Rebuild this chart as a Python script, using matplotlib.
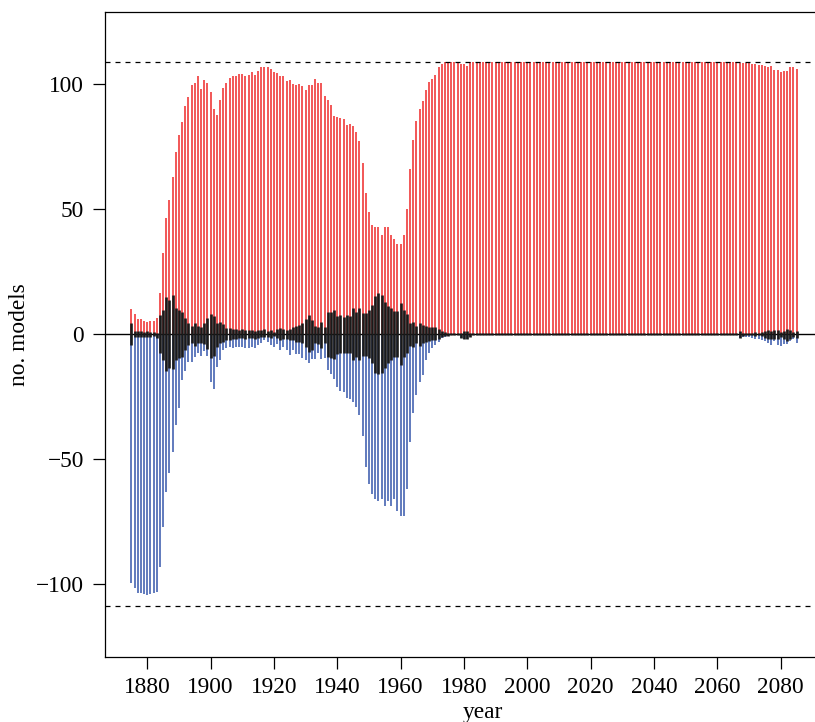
import matplotlib
matplotlib.use('Agg')
import matplotlib.pyplot as plt
import numpy as np

plt.rcParams['font.family'] = ['Liberation Serif', 'DejaVu Serif']

color_pos, color_neg, color_mid = '#f03a3a', '#4563b2', '#1a1a1a'
n_total = 109

# one bar per year, 1875 .. 2085
years = np.arange(1875, 2086)

# number of models with positive sign (red)
pos_models = [
    10.0, 8.0, 6.0, 6.0, 5.3,                                        # 1875-79
    4.8, 5.3, 5.3, 6.5, 16.3, 32.5, 46.5, 53.5, 62.7, 73.0,          # 1880s
    79.6, 84.8, 91.2, 94.7, 99.6, 100.5, 103.2, 98.0, 101.7, 100.6,  # 1890s
    97.0, 90.0, 87.6, 93.5, 98.5, 100.6, 102.5, 103.3, 103.2, 104.0,  # 1900s
    104.0, 103.3, 103.5, 104.8, 103.6, 105.2, 106.7, 106.7, 106.7, 106.0,  # 1910s
    104.7, 104.3, 103.2, 103.2, 101.3, 101.6, 100.1, 99.7, 99.9, 99.1,  # 1920s
    97.6, 99.6, 99.6, 102.0, 100.3, 100.3, 95.2, 93.6, 91.6, 87.2,   # 1930s
    86.8, 86.5, 86.0, 83.6, 84.1, 83.1, 80.7, 77.2, 68.5, 56.5,      # 1940s
    48.7, 43.6, 43.0, 43.0, 39.6, 43.0, 43.0, 39.6, 38.0, 36.0,      # 1950s
    36.0, 39.6, 50.0, 66.1, 77.6, 85.2, 90.0, 93.2, 97.6, 100.7,     # 1960s
    102.0, 103.6, 106.7, 108.1, 109, 109, 109, 109, 109, 108.1,      # 1970s
    108.1, 107.3, 109, 109, 109, 109, 109, 109, 109, 109,            # 1980s
    109, 109, 109, 109, 109, 109, 109, 109, 109, 109,                # 1990s
    109, 109, 109, 109, 109, 109, 109, 109, 109, 109,                # 2000s
    109, 109, 109, 109, 109, 109, 109, 109, 109, 109,                # 2010s
    109, 109, 109, 109, 109, 109, 109, 109, 109, 109,                # 2020s
    109, 109, 109, 109, 109, 109, 109, 109, 109, 109,                # 2030s
    109, 109, 109, 109, 109, 109, 109, 109, 109, 109,                # 2040s
    109, 109, 109, 109, 109, 109, 109, 109, 109, 109,                # 2050s
    109, 109, 109, 109, 109, 109, 109, 108.3, 108.3, 108.3,          # 2060s
    108.3, 108.0, 108.0, 107.6, 107.6, 107.2, 106.7, 107.2, 105.6, 105.6,  # 2070s
    104.8, 105.2, 105.2, 106.7, 106.7, 106.0,                        # 2080-85
]

# number of models with negative sign (blue), drawn downwards
neg_models = [
    -99.7, -101.7, -103.7, -103.7, -104.1,
    -104.5, -104.1, -103.7, -103.1, -93.1, -77.1, -63.1, -55.7, -47.1, -36.4,
    -29.7, -18.4, -14.7, -11.2, -11.2, -9.1, -7.5, -8.8, -6.7, -8.8,
    -19.3, -21.9, -13.1, -10.4, -6.4, -5.7, -5.1, -5.7, -5.1, -5.1,
    -5.1, -5.7, -5.7, -5.1, -5.7, -4.4, -3.7, -2.4, -3.1, -4.4,
    -5.1, -4.0, -6.4, -5.1, -6.4, -8.4, -6.4, -8.0, -8.0, -9.7,
    -10.4, -11.7, -9.9, -9.9, -7.7, -9.9, -9.7, -14.4, -16.2, -17.9,
    -21.4, -22.8, -23.4, -25.7, -26.1, -27.1, -29.1, -32.4, -40.8, -53.1,
    -60.0, -64.0, -66.0, -67.0, -66.0, -69.0, -67.0, -69.0, -66.0, -71.0,
    -73.0, -73.0, -62.0, -43.1, -31.7, -24.4, -19.1, -16.4, -10.5, -7.5,
    -5.7, -4.4, -3.1, -1.7, -1.1, -0.6, -0.5, -0.5, -0.5, -1.5,
    -1.9, -1.9, -1.0, -0.3, -0.3, -0.3, -0.3, -0.3, -0.3, -0.3,
    -0.3, -0.3, -0.3, -0.3, -0.3, -0.3, -0.3, -0.3, -0.3, -0.3,
    -0.3, -0.3, -0.3, -0.3, -0.3, -0.3, -0.3, -0.3, -0.3, -0.3,
    -0.3, -0.3, -0.3, -0.3, -0.3, -0.3, -0.3, -0.3, -0.3, -0.3,
    -0.3, -0.3, -0.3, -0.3, -0.3, -0.3, -0.3, -0.3, -0.3, -0.3,
    -0.3, -0.3, -0.3, -0.3, -0.3, -0.3, -0.3, -0.3, -0.3, -0.3,
    -0.3, -0.3, -0.3, -0.3, -0.3, -0.3, -0.3, -0.3, -0.3, -0.3,
    -0.3, -0.3, -0.3, -0.3, -0.3, -0.3, -0.3, -0.3, -0.3, -0.3,
    -0.3, -0.3, -0.3, -0.3, -0.3, -0.3, -0.5, -1.6, -1.3, -1.3,
    -1.3, -1.5, -1.9, -1.9, -2.4, -2.9, -3.5, -4.3, -2.9, -4.3,
    -4.8, -4.0, -4.0, -2.9, -1.9, -3.5,
]

# black bars around zero: upper and lower ends
mid_top = [
    4.3, 1.2, 1.2, 1.2, 0.8,
    1.2, 0.8, 0.8, 0.5, 7.6, 9.6, 14.7, 13.6, 15.6, 10.3,
    9.6, 8.9, 6.3, 4.3, 3.3, 4.5, 3.2, 2.9, 4.3, 6.3,
    8.0, 7.2, 4.3, 5.0, 3.9, 2.5, 2.3, 1.9, 2.1, 1.6,
    1.9, 1.6, 1.6, 1.6, 1.3, 1.6, 1.6, 1.9, 1.2, 1.6,
    0.9, 1.9, 2.3, 1.9, 1.6, 2.1, 2.9, 3.2, 3.6, 4.3,
    5.9, 7.6, 5.6, 3.2, 2.9, 5.0, 2.9, 8.9, 9.0, 9.6,
    7.2, 7.8, 7.0, 7.6, 7.2, 10.3, 8.9, 10.3, 8.5, 8.5,
    9.6, 11.6, 15.2, 16.3, 15.6, 13.0, 11.2, 10.3, 9.2, 9.2,
    12.3, 9.6, 8.0, 4.5, 4.9, 3.2, 4.5, 3.6, 3.2, 2.9,
    2.7, 2.7, 1.9, 1.3, 0.8, 0.6, 0.5, 0.5, 0.5, 0.5,
    1.2, 1.2, 0.4, 0.4, 0.4, 0.4, 0.4, 0.4, 0.4, 0.4,
    0.4, 0.4, 0.4, 0.4, 0.4, 0.4, 0.4, 0.4, 0.4, 0.4,
    0.4, 0.4, 0.4, 0.4, 0.4, 0.4, 0.4, 0.4, 0.4, 0.4,
    0.4, 0.4, 0.4, 0.4, 0.4, 0.4, 0.4, 0.4, 0.4, 0.4,
    0.4, 0.4, 0.4, 0.4, 0.4, 0.4, 0.4, 0.4, 0.4, 0.4,
    0.4, 0.4, 0.4, 0.4, 0.4, 0.4, 0.4, 0.4, 0.4, 0.4,
    0.4, 0.4, 0.4, 0.4, 0.4, 0.4, 0.4, 0.4, 0.4, 0.4,
    0.4, 0.4, 0.4, 0.4, 0.4, 0.4, 0.4, 0.4, 0.4, 0.4,
    0.4, 0.4, 0.4, 0.4, 0.4, 0.4, 0.4, 1.3, 0.5, 0.5,
    0.4, 0.4, 0.8, 0.5, 0.8, 1.1, 1.6, 1.3, 1.6, 1.6,
    0.8, 1.1, 2.1, 1.6, 0.8, 1.3,
]

mid_bottom = [
    -4.4, -1.1, -1.1, -1.1, -1.1,
    -1.1, -1.1, -0.9, -1.7, -7.7, -10.4, -14.7, -13.7, -14.1, -10.4,
    -9.7, -9.3, -6.4, -4.4, -3.7, -4.7, -3.5, -3.5, -4.0, -6.1,
    -9.7, -8.8, -5.1, -3.7, -3.1, -2.4, -2.4, -2.1, -1.9, -1.7,
    -1.7, -1.9, -1.7, -1.7, -1.9, -1.5, -1.3, -1.1, -1.3, -1.5,
    -0.8, -1.7, -2.4, -2.1, -2.1, -2.4, -2.4, -3.1, -3.1, -3.7,
    -5.1, -7.1, -6.4, -3.7, -4.0, -5.7, -3.7, -9.1, -9.4, -9.8,
    -7.8, -7.7, -7.6, -7.6, -7.7, -10.4, -9.1, -10.4, -8.8, -8.8,
    -9.7, -11.7, -15.5, -16.0, -15.7, -13.7, -11.5, -10.4, -9.3, -9.3,
    -12.4, -9.1, -7.7, -4.8, -5.1, -3.7, -4.8, -3.7, -3.1, -2.8,
    -2.4, -2.4, -2.1, -1.3, -0.8, -0.6, -0.5, -0.5, -0.5, -1.5,
    -1.9, -1.9, -1.0, -0.4, -0.4, -0.4, -0.4, -0.4, -0.4, -0.4,
    -0.4, -0.4, -0.4, -0.4, -0.4, -0.4, -0.4, -0.4, -0.4, -0.4,
    -0.4, -0.4, -0.4, -0.4, -0.4, -0.4, -0.4, -0.4, -0.4, -0.4,
    -0.4, -0.4, -0.4, -0.4, -0.4, -0.4, -0.4, -0.4, -0.4, -0.4,
    -0.4, -0.4, -0.4, -0.4, -0.4, -0.4, -0.4, -0.4, -0.4, -0.4,
    -0.4, -0.4, -0.4, -0.4, -0.4, -0.4, -0.4, -0.4, -0.4, -0.4,
    -0.4, -0.4, -0.4, -0.4, -0.4, -0.4, -0.4, -0.4, -0.4, -0.4,
    -0.4, -0.4, -0.4, -0.4, -0.4, -0.4, -0.4, -0.4, -0.4, -0.4,
    -0.4, -0.4, -0.4, -0.4, -0.4, -0.4, -0.4, -1.6, -0.6, -0.5,
    -0.4, -0.4, -0.8, -0.5, -0.9, -1.6, -2.1, -1.9, -2.1, -1.9,
    -1.3, -1.9, -2.7, -2.1, -1.1, -1.6,
]

x_ticks = [1880, 1900, 1920, 1940, 1960, 1980, 2000, 2020, 2040, 2060, 2080]
y_ticks = [-100, -50, 0, 50, 100]

fontsize = 16.8

fig = plt.figure(figsize=(8.15, 7.22), dpi=100)
# right part of the box is cut off by the figure edge, as in the original
ax = fig.add_axes([0.1285, 0.0904, 0.8815, 0.8926])

ax.vlines(years, 0, pos_models, colors=color_pos, linewidth=1.2, zorder=1)
ax.vlines(years, 0, neg_models, colors=color_neg, linewidth=1.2, zorder=1)
ax.axhline(0, color='black', linewidth=1.0, zorder=2)
ax.vlines(years, mid_bottom, mid_top, colors=color_mid, linewidth=1.9, zorder=3)

for v in (n_total, -n_total):
    ax.axhline(v, color='black', linewidth=0.9, linestyle=(0, (4, 4)), zorder=4)

ax.set_xlim(1866.6, 2093.4)
ax.set_ylim(-129.1, 128.7)
ax.set_xticks(x_ticks)
ax.set_yticks(y_ticks)

ax.tick_params(axis='both', direction='out', length=8.8, width=0.9,
               labelsize=fontsize, pad=6, colors='black')
for s in ax.spines.values():
    s.set_linewidth(0.9)

fig.text(25 / 815, 1 - 334.5 / 722, 'no. models', rotation=90, rotation_mode='anchor',
         ha='center', va='baseline', fontsize=fontsize)
fig.text(483 / 815, 1 - 718 / 722, 'year', ha='center', va='baseline', fontsize=fontsize)

fig.savefig('out.png', dpi=100)
